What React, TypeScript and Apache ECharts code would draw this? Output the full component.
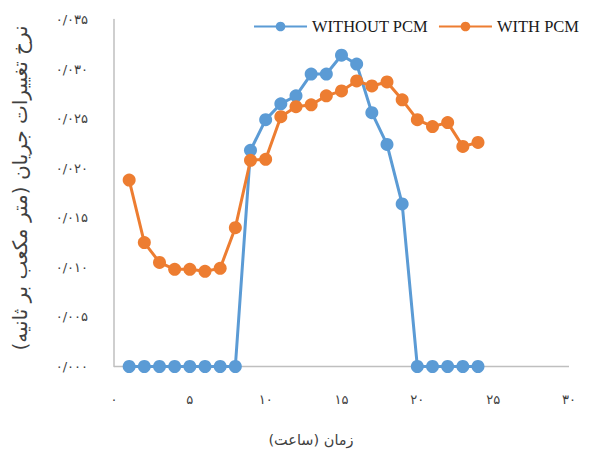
import React, { useEffect, useRef } from "react";
import * as echarts from "echarts";

const hours = [1, 2, 3, 4, 5, 6, 7, 8, 9, 10, 11, 12, 13, 14, 15, 16, 17, 18, 19, 20, 21, 22, 23, 24];
const withoutPcm = [0, 0, 0, 0, 0, 0, 0, 0, 0.0218, 0.0249, 0.0265, 0.0273, 0.0295, 0.0295, 0.0314, 0.0305, 0.0256, 0.0224, 0.0164, 0, 0, 0, 0, 0];
const withPcm = [0.0188, 0.0125, 0.0105, 0.0098, 0.0098, 0.0096, 0.0099, 0.014, 0.0208, 0.0209, 0.0252, 0.0262, 0.0264, 0.0273, 0.0278, 0.0288, 0.0283, 0.0287, 0.0269, 0.0249, 0.0242, 0.0246, 0.0222, 0.0226];
const seriesNames = ["WITHOUT PCM", "WITH PCM"];
const xTitle = "زمان (ساعت)";
const yTitle = "نرخ تغییرات جریان (متر مکعب بر ثانیه)";

const faDigits = "۰۱۲۳۴۵۶۷۸۹";
const toFa = (s: string) => s.replace(/[0-9]/g, (d) => faDigits[Number(d)]).replace(".", "/");

export default function App() {
  const ref = useRef<HTMLDivElement>(null);
  useEffect(() => {
    if (!ref.current) return;
    const chart = echarts.init(ref.current, null, { renderer: "svg" });
    const faFont = "DejaVu Sans";
    chart.setOption({
      animation: false,
      backgroundColor: "#ffffff",
      grid: { left: 114, right: 21, top: 19.5, bottom: 85.5 },
      legend: {
        right: 6,
        top: 13,
        itemWidth: 53,
        itemHeight: 12,
        itemGap: 10,
        textStyle: { fontFamily: "Liberation Serif", fontSize: 16.5, color: "#1a1a1a" },
        data: seriesNames,
      },
      xAxis: {
        type: "value",
        min: 0,
        max: 30,
        interval: 5,
        splitLine: { show: false },
        axisTick: { show: false },
        axisLine: { show: false },
        axisLabel: {
          margin: 26,
          fontFamily: faFont,
          fontSize: 13,
          color: "#404040",
          formatter: (v: number) => toFa(String(v)),
        },
      },
      yAxis: {
        type: "value",
        min: 0,
        max: 0.035,
        interval: 0.005,
        splitLine: { show: false },
        axisTick: { show: false },
        axisLine: { show: true, lineStyle: { color: "#bfbfbf", width: 1.5 } },
        axisLabel: {
          margin: 26,
          fontFamily: faFont,
          fontSize: 13,
          color: "#404040",
          formatter: (v: number) => toFa(v.toFixed(3)),
        },
      },
      series: [
        {
          name: seriesNames[0],
          type: "line",
          data: hours.map((h, i) => [h, withoutPcm[i]]),
          symbol: "circle",
          symbolSize: 13,
          color: "#5B9BD5",
          lineStyle: { width: 3, color: "#5B9BD5" },
          itemStyle: { color: "#5B9BD5" },
          z: 3,
        },
        {
          name: seriesNames[1],
          type: "line",
          data: hours.map((h, i) => [h, withPcm[i]]),
          symbol: "circle",
          symbolSize: 13,
          color: "#ED7D31",
          lineStyle: { width: 3, color: "#ED7D31" },
          itemStyle: { color: "#ED7D31" },
          z: 4,
        },
      ],
      graphic: [
        {
          type: "line",
          shape: { x1: 114, y1: 366.5, x2: 569, y2: 366.5 },
          style: { stroke: "#bfbfbf", lineWidth: 1.5 },
          z: 0,
        },
        {
          type: "text",
          x: 311,
          y: 440,
          style: {
            text: xTitle,
            fontFamily: faFont,
            fontSize: 14.5,
            fill: "#404040",
            align: "center",
            verticalAlign: "middle",
          },
        },
        {
          type: "text",
          x: 20,
          y: 188,
          rotation: Math.PI / 2,
          style: {
            text: yTitle,
            fontFamily: faFont,
            fontSize: 20,
            fill: "#404040",
            align: "center",
            verticalAlign: "middle",
          },
        },
      ],
    });
    return () => chart.dispose();
  }, []);
  return <div ref={ref} style={{ width: 590, height: 452, position: "absolute", left: 0, top: 0 }} />;
}
